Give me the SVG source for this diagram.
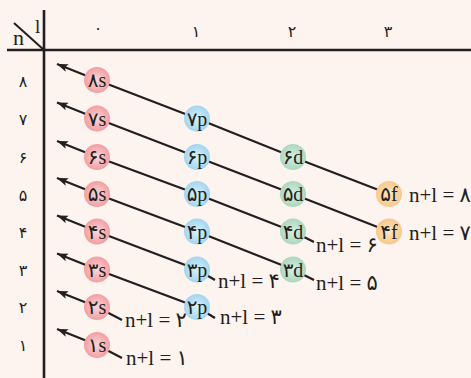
<svg xmlns="http://www.w3.org/2000/svg" width="471" height="378" viewBox="0 0 471 378">
<style>
.ax{stroke:#231f20;stroke-width:2.6;fill:none}
.ln{stroke:#231f20;stroke-width:2.3;fill:none;marker-end:url(#ah)}
.t{font-family:"Liberation Serif","DejaVu Sans",serif;fill:#231f20}
.nt{font-size:20px;text-anchor:middle;dominant-baseline:central}
.lb{font-size:21px}
.dg{font-family:"DejaVu Sans",sans-serif;font-size:16px;fill:#231f20;text-anchor:middle;dominant-baseline:central}
</style>
<defs>
<marker id="ah" markerUnits="userSpaceOnUse" markerWidth="12" markerHeight="9" refX="11" refY="4" orient="auto">
<path d="M0,0 L11,4 L0,8 L2.5,4 z" fill="#231f20"/>
</marker>
<radialGradient id="gs"><stop offset="0" stop-color="#fcd6d6"/><stop offset="1" stop-color="#f29ea2"/></radialGradient>
<radialGradient id="gp"><stop offset="0" stop-color="#d8f0fb"/><stop offset="1" stop-color="#a3d5ef"/></radialGradient>
<radialGradient id="gd"><stop offset="0" stop-color="#d8eedf"/><stop offset="1" stop-color="#acd7bd"/></radialGradient>
<radialGradient id="gf"><stop offset="0" stop-color="#fde6c3"/><stop offset="1" stop-color="#f8c888"/></radialGradient>
</defs>
<rect width="471" height="378" fill="#fdf3ef"/>
<g id="axes">
<line class="ax" x1="7" y1="50" x2="471" y2="50"/>
<line class="ax" x1="44" y1="10" x2="44" y2="378"/>
<line class="ax" x1="14" y1="23" x2="44" y2="50" style="stroke-width:2"/>
<text class="t" x="13" y="45" font-size="22">n</text>
<text class="t" x="35" y="33" font-size="19">l</text>
<text class="dg" x="98" y="28" font-size="12">۰</text>
<text class="dg" x="196" y="31">۱</text>
<text class="dg" x="292" y="31">۲</text>
<text class="dg" x="388" y="31">۳</text>
<text class="dg" x="23" y="81">۸</text>
<text class="dg" x="23" y="119">۷</text>
<text class="dg" x="23" y="157">۶</text>
<text class="dg" x="23" y="195">۵</text>
<text class="dg" x="23" y="232">۴</text>
<text class="dg" x="23" y="270">۳</text>
<text class="dg" x="23" y="307">۲</text>
<text class="dg" x="23" y="345">۱</text>
</g>
<g id="connectors">
<polyline class="ln" points="389,194 293,157 197,118.5 97,80 57,64"/>
<polyline class="ln" points="389,231.5 293,194 197,157 97,118.5 57,102.5"/>
<polyline class="ln" points="314,242 293,231.5 197,194 97,157 57,141"/>
<polyline class="ln" points="314,280 293,269.5 197,231.5 97,194 57,178"/>
<polyline class="ln" points="215,280 197,269.5 97,231.5 57,215.5"/>
<polyline class="ln" points="215,318 197,307 97,269.5 57,253.5"/>
<polyline class="ln" points="122,320 97,307 57,291"/>
<polyline class="ln" points="122,358 97,345 57,329"/>
</g>
<g id="n8s"><circle cx="97" cy="80" r="13" fill="url(#gs)"/><text class="t nt" x="97" y="80">۸s</text></g>
<g id="n7s"><circle cx="97" cy="118.5" r="13" fill="url(#gs)"/><text class="t nt" x="97" y="118.5">۷s</text></g>
<g id="n6s"><circle cx="97" cy="157" r="13" fill="url(#gs)"/><text class="t nt" x="97" y="157">۶s</text></g>
<g id="n5s"><circle cx="97" cy="194" r="13" fill="url(#gs)"/><text class="t nt" x="97" y="194">۵s</text></g>
<g id="n4s"><circle cx="97" cy="231.5" r="13" fill="url(#gs)"/><text class="t nt" x="97" y="231.5">۴s</text></g>
<g id="n3s"><circle cx="97" cy="269.5" r="13" fill="url(#gs)"/><text class="t nt" x="97" y="269.5">۳s</text></g>
<g id="n2s"><circle cx="97" cy="307" r="13" fill="url(#gs)"/><text class="t nt" x="97" y="307">۲s</text></g>
<g id="n1s"><circle cx="97" cy="345" r="13" fill="url(#gs)"/><text class="t nt" x="97" y="345">۱s</text></g>
<g id="n7p"><circle cx="197" cy="118.5" r="13" fill="url(#gp)"/><text class="t nt" x="197" y="118.5">۷p</text></g>
<g id="n6p"><circle cx="197" cy="157" r="13" fill="url(#gp)"/><text class="t nt" x="197" y="157">۶p</text></g>
<g id="n5p"><circle cx="197" cy="194" r="13" fill="url(#gp)"/><text class="t nt" x="197" y="194">۵p</text></g>
<g id="n4p"><circle cx="197" cy="231.5" r="13" fill="url(#gp)"/><text class="t nt" x="197" y="231.5">۴p</text></g>
<g id="n3p"><circle cx="197" cy="269.5" r="13" fill="url(#gp)"/><text class="t nt" x="197" y="269.5">۳p</text></g>
<g id="n2p"><circle cx="197" cy="307" r="13" fill="url(#gp)"/><text class="t nt" x="197" y="307">۲p</text></g>
<g id="n6d"><circle cx="293" cy="157" r="13" fill="url(#gd)"/><text class="t nt" x="293" y="157">۶d</text></g>
<g id="n5d"><circle cx="293" cy="194" r="13" fill="url(#gd)"/><text class="t nt" x="293" y="194">۵d</text></g>
<g id="n4d"><circle cx="293" cy="231.5" r="13" fill="url(#gd)"/><text class="t nt" x="293" y="231.5">۴d</text></g>
<g id="n3d"><circle cx="293" cy="269.5" r="13" fill="url(#gd)"/><text class="t nt" x="293" y="269.5">۳d</text></g>
<g id="n5f"><circle cx="389" cy="194" r="13" fill="url(#gf)"/><text class="t nt" x="389" y="194">۵f</text></g>
<g id="n4f"><circle cx="389" cy="231.5" r="13" fill="url(#gf)"/><text class="t nt" x="389" y="231.5">۴f</text></g>
<g id="labels">
<text class="t lb" x="409" y="202">n+l = ۸</text>
<text class="t lb" x="409" y="240">n+l = ۷</text>
<text class="t lb" x="316" y="252">n+l = ۶</text>
<text class="t lb" x="316" y="290">n+l = ۵</text>
<text class="t lb" x="218" y="288">n+l = ۴</text>
<text class="t lb" x="220" y="324">n+l = ۳</text>
<text class="t lb" x="125" y="327">n+l = ۲</text>
<text class="t lb" x="126" y="365">n+l = ۱</text>
</g>
</svg>
